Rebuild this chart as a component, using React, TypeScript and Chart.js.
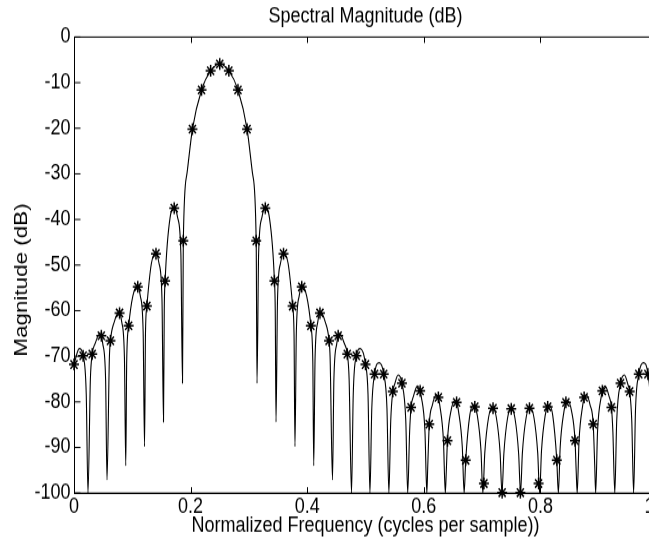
import React, { useEffect, useRef } from 'react';
import { Chart, registerables } from 'chart.js';

Chart.register(...registerables);

// ---- data ----
const titleText = 'Spectral Magnitude (dB)';
const xLabel = 'Normalized Frequency (cycles per sample))';
const yLabel = 'Magnitude (dB)';

// continuous spectrum (lobes, nulls) : frequency / dB
const curveFreq = [
  0, 0.009, 0.0156, 0.021, 0.024,
  0.0281, 0.0313, 0.0363, 0.0445, 0.0469, 0.0493, 0.0542, 0.0566,
  0.0607, 0.0625, 0.069, 0.0773, 0.0819, 0.0865, 0.0888,
  0.0904, 0.0938, 0.1009, 0.109, 0.1138, 0.1186, 0.121,
  0.1226, 0.125, 0.1328, 0.1406, 0.1458, 0.1509, 0.1535,
  0.1548, 0.1563, 0.1648, 0.1723, 0.1778, 0.1833, 0.1861,
  0.1875, 0.1937, 0.2031, 0.2188, 0.2344, 0.25, 0.2656, 0.2813, 0.2969, 0.3063, 0.3125, 0.3139,
  0.3167, 0.3222, 0.3277, 0.3352, 0.3438, 0.3452, 0.3465,
  0.3491, 0.3542, 0.3594, 0.3672, 0.375, 0.3774, 0.379,
  0.3814, 0.3862, 0.391, 0.3991, 0.4063, 0.4096, 0.4112,
  0.4135, 0.4181, 0.4227, 0.431, 0.4375, 0.4393, 0.4434,
  0.4458, 0.4507, 0.4531, 0.4555, 0.4637, 0.4688, 0.4719, 0.476,
  0.479, 0.4844, 0.491, 0.5, 0.5043, 0.5076,
  0.5108, 0.5156, 0.5235, 0.5313, 0.5368, 0.5401,
  0.5433, 0.5469, 0.5496, 0.556, 0.5625, 0.5691, 0.5724,
  0.5757, 0.5781, 0.5824, 0.589, 0.5938, 0.5955, 0.602, 0.6052,
  0.6068, 0.6094, 0.6147, 0.6211, 0.625, 0.6274, 0.6337, 0.6369,
  0.6385, 0.6406, 0.6466, 0.6531, 0.6563, 0.6595, 0.666, 0.6692,
  0.6719, 0.6789, 0.6853, 0.6875, 0.6917, 0.6981, 0.7013,
  0.7046, 0.7111, 0.718, 0.7244, 0.7309, 0.7341,
  0.7373, 0.7436, 0.75, 0.7564, 0.7627, 0.7659,
  0.7691, 0.7756, 0.782, 0.7889, 0.7954, 0.7987,
  0.8019, 0.8083, 0.8125, 0.8147, 0.8211, 0.8281, 0.8308,
  0.834, 0.8405, 0.8438, 0.8469, 0.8534, 0.8594, 0.8615, 0.8631,
  0.8663, 0.8726, 0.875, 0.8789, 0.8853, 0.8906, 0.8932, 0.8948,
  0.898, 0.9045, 0.9063, 0.911, 0.9176, 0.9219, 0.9243, 0.9276,
  0.9309, 0.9375, 0.944, 0.9504, 0.9531, 0.9567, 0.9599,
  0.9632, 0.9688, 0.9765, 0.9844, 0.9892, 0.9924,
  0.9957, 1.0,
];
const curveDb = [
  -71.8, -68.3, -69.9, -78.3, -100,
  -75.0, -69.5, -67.2, -65.0, -65.5, -67.2, -75.0, -97.1,
  -70.3, -66.6, -62.5, -60.3, -62.5, -70.3, -94.0,
  -71.0, -63.3, -56.8, -54.6, -56.8, -64.6, -89.8,
  -65.0, -59.0, -49.6, -47.4, -49.6, -57.4, -84.4,
  -60.0, -53.5, -39.6, -37.4, -39.6, -47.4, -75.9,
  -44.7, -30.0, -20.2, -11.6, -7.4, -5.9, -7.4, -11.6, -20.2, -30.0, -44.7, -75.9,
  -47.4, -39.6, -37.4, -39.6, -53.5, -60.0, -84.4,
  -57.4, -49.6, -47.4, -49.6, -59.0, -65.0, -89.8,
  -64.6, -56.8, -54.6, -56.8, -63.3, -71.0, -94.0,
  -70.3, -62.5, -60.3, -62.5, -66.6, -70.3, -97.1,
  -75.0, -67.2, -65.5, -65.0, -67.2, -69.5, -75.0, -100,
  -78.3, -69.9, -68.3, -71.8, -78.3, -100,
  -81.4, -73.9, -71.4, -73.9, -81.4, -100,
  -84.1, -77.7, -76.3, -74.1, -75.9, -84.1, -100,
  -86.5, -81.2, -78.7, -76.5, -77.6, -78.7, -86.5, -100,
  -94.0, -84.9, -80.7, -78.5, -79.0, -80.7, -88.5, -100,
  -95.5, -88.5, -82.0, -79.8, -80.1, -82.0, -89.8, -100,
  -92.8, -82.9, -80.7, -81.1, -82.9, -90.7, -100,
  -91.2, -83.4, -81.2, -83.4, -91.2, -100,
  -91.4, -83.6, -81.4, -83.6, -91.4, -100,
  -91.2, -83.4, -81.2, -83.4, -91.2, -100,
  -90.7, -82.9, -81.1, -80.7, -82.9, -92.8, -100,
  -89.8, -82.0, -80.1, -79.8, -82.0, -88.5, -95.5, -100,
  -88.5, -80.7, -79.0, -78.5, -80.7, -84.9, -94.0, -100,
  -86.5, -78.7, -77.6, -76.5, -78.7, -81.2, -86.5, -100,
  -84.1, -75.9, -74.1, -76.3, -77.7, -84.1, -100,
  -81.4, -73.9, -71.4, -73.9, -81.4, -100,
  -78.3, -71.8,
];

// DFT samples (star markers)
const binFreq = [
  0, 0.015625, 0.03125, 0.046875, 0.0625, 0.078125, 0.09375, 0.109375,
  0.125, 0.140625, 0.15625, 0.171875, 0.1875, 0.203125, 0.21875, 0.234375,
  0.25, 0.265625, 0.28125, 0.296875, 0.3125, 0.328125, 0.34375, 0.359375,
  0.375, 0.390625, 0.40625, 0.421875, 0.4375, 0.453125, 0.46875, 0.484375,
  0.5, 0.515625, 0.53125, 0.546875, 0.5625, 0.578125, 0.59375, 0.609375,
  0.625, 0.640625, 0.65625, 0.671875, 0.6875, 0.703125, 0.71875, 0.734375,
  0.75, 0.765625, 0.78125, 0.796875, 0.8125, 0.828125, 0.84375, 0.859375,
  0.875, 0.890625, 0.90625, 0.921875, 0.9375, 0.953125, 0.96875, 0.984375,
];
const binDb = [
  -71.8, -69.9, -69.5, -65.5, -66.6, -60.5, -63.3, -54.8,
  -59.0, -47.5, -53.5, -37.5, -44.7, -20.2, -11.6, -7.4,
  -5.9, -7.4, -11.6, -20.2, -44.7, -37.5, -53.5, -47.5,
  -59.0, -54.8, -63.3, -60.5, -66.6, -65.5, -69.5, -69.9,
  -71.8, -73.9, -73.9, -77.7, -75.9, -81.2, -77.6, -84.9,
  -79.0, -88.5, -80.1, -92.8, -81.1, -97.9, -81.4, -99.9,
  -81.5, -99.9, -81.4, -97.9, -81.1, -92.8, -80.1, -88.5,
  -79.0, -84.9, -77.6, -81.2, -75.9, -77.7, -73.9, -73.9,
];

const xMin = 0;
const xMax = 1;
const xStep = 0.2;
const yMin = -100;
const yMax = 0;
const yStep = 10;

// ---- layout ----
const W = 700;
const H = 458;
const STRETCH_Y = 540 / H;
const PLOT_BOTTOM = 418.2;
const RIGHT_PAD = 43;
const FONT_FAMILY = '"Liberation Sans", Arial, Helvetica, sans-serif';

const boxAndTicks = {
  id: 'boxAndTicks',
  afterDatasetsDraw(chart: any) {
    const { ctx, chartArea: a, scales } = chart;
    const L = Math.round(a.left) + 0.5;
    const R = Math.round(a.right) + 0.5;
    const T = a.top;
    const B = a.bottom;
    ctx.save();
    ctx.strokeStyle = '#000';
    ctx.lineWidth = 1;
    ctx.beginPath();
    ctx.moveTo(L, T);
    ctx.lineTo(R, T);
    ctx.lineTo(R, B);
    ctx.lineTo(L, B);
    ctx.closePath();
    for (const t of scales.x.ticks) {
      const p = Math.round(scales.x.getPixelForValue(t.value)) + 0.5;
      ctx.moveTo(p, B);
      ctx.lineTo(p, B - 5);
      ctx.moveTo(p, T);
      ctx.lineTo(p, T + 5);
    }
    for (const t of scales.y.ticks) {
      const p = scales.y.getPixelForValue(t.value);
      ctx.moveTo(L, p);
      ctx.lineTo(L + 6, p);
      ctx.moveTo(R, p);
      ctx.lineTo(R - 6, p);
    }
    ctx.stroke();
    ctx.restore();
  },
  afterDraw(chart: any) {
    // y-axis label, placed as in the reference (slightly below the axis centre)
    const { ctx } = chart;
    ctx.save();
    ctx.fillStyle = '#000';
    ctx.font = `19px ${FONT_FAMILY}`;
    ctx.textAlign = 'center';
    ctx.textBaseline = 'middle';
    ctx.translate(21.5, 280 / STRETCH_Y);
    ctx.rotate(-Math.PI / 2);
    ctx.fillText(yLabel, 0, 0);
    ctx.restore();
  },
};

export default function App() {
  const ref = useRef<HTMLCanvasElement>(null);

  useEffect(() => {
    const canvas = ref.current;
    if (!canvas) return;
    const font = { family: FONT_FAMILY, size: 18, weight: 'normal' as const };
    const chart = new Chart(canvas, {
      type: 'scatter',
      data: {
        datasets: [
          {
            label: 'spectrum',
            data: curveFreq.map((x, i) => ({ x, y: curveDb[i] })),
            showLine: true,
            borderColor: '#000',
            borderWidth: 1.1,
            pointRadius: 0,
            cubicInterpolationMode: 'monotone',
            fill: false,
            order: 2,
          } as any,
          {
            label: 'DFT',
            data: binFreq.map((x, i) => ({ x, y: binDb[i] })),
            showLine: false,
            pointStyle: 'star',
            pointRadius: 5,
            pointBorderColor: '#000',
            pointBorderWidth: 1.5,
            pointBackgroundColor: 'rgba(0,0,0,0)',
            borderColor: '#000',
            clip: false,
            order: 1,
          } as any,
        ],
      },
      options: {
        responsive: false,
        animation: false,
        devicePixelRatio: 1,
        events: [],
        layout: { padding: { top: 0, left: 0, right: RIGHT_PAD, bottom: 0 } },
        plugins: {
          legend: { display: false },
          tooltip: { enabled: false },
          title: {
            display: true,
            text: titleText,
            color: '#000',
            font,
            fullSize: false,
            padding: { top: 3.6, bottom: 6.2 },
          },
        },
        scales: {
          x: {
            type: 'linear',
            min: xMin,
            max: xMax,
            ticks: { stepSize: xStep, color: '#000', font, padding: 1, maxRotation: 0, autoSkip: false },
            grid: { display: false, drawTicks: false },
            border: { display: true, color: '#000', width: 1 },
            title: { display: true, text: xLabel, color: '#000', font, padding: { top: 0, bottom: 1.5 } },
            afterFit: (s: any) => {
              s.height = H - PLOT_BOTTOM;
            },
          },
          y: {
            type: 'linear',
            min: yMin,
            max: yMax,
            ticks: { stepSize: yStep, color: '#000', font, padding: 3.5 },
            grid: { display: false, drawTicks: false },
            border: { display: true, color: '#000', width: 1 },
            title: { display: false, text: yLabel },
            afterFit: (s: any) => {
              s.width = 74;
            },
          },
        },
      } as any,
      plugins: [boxAndTicks],
    });
    return () => chart.destroy();
  }, []);

  return (
    <div
      style={{
        position: 'fixed',
        left: 0,
        top: 0,
        width: 649,
        height: 540,
        overflow: 'hidden',
        background: '#fff',
      }}
    >
      <div
        style={{
          width: W,
          height: H,
          transform: `scaleY(${STRETCH_Y})`,
          transformOrigin: '0 0',
        }}
      >
        <canvas ref={ref} width={W} height={H} style={{ display: 'block' }} />
      </div>
    </div>
  );
}
